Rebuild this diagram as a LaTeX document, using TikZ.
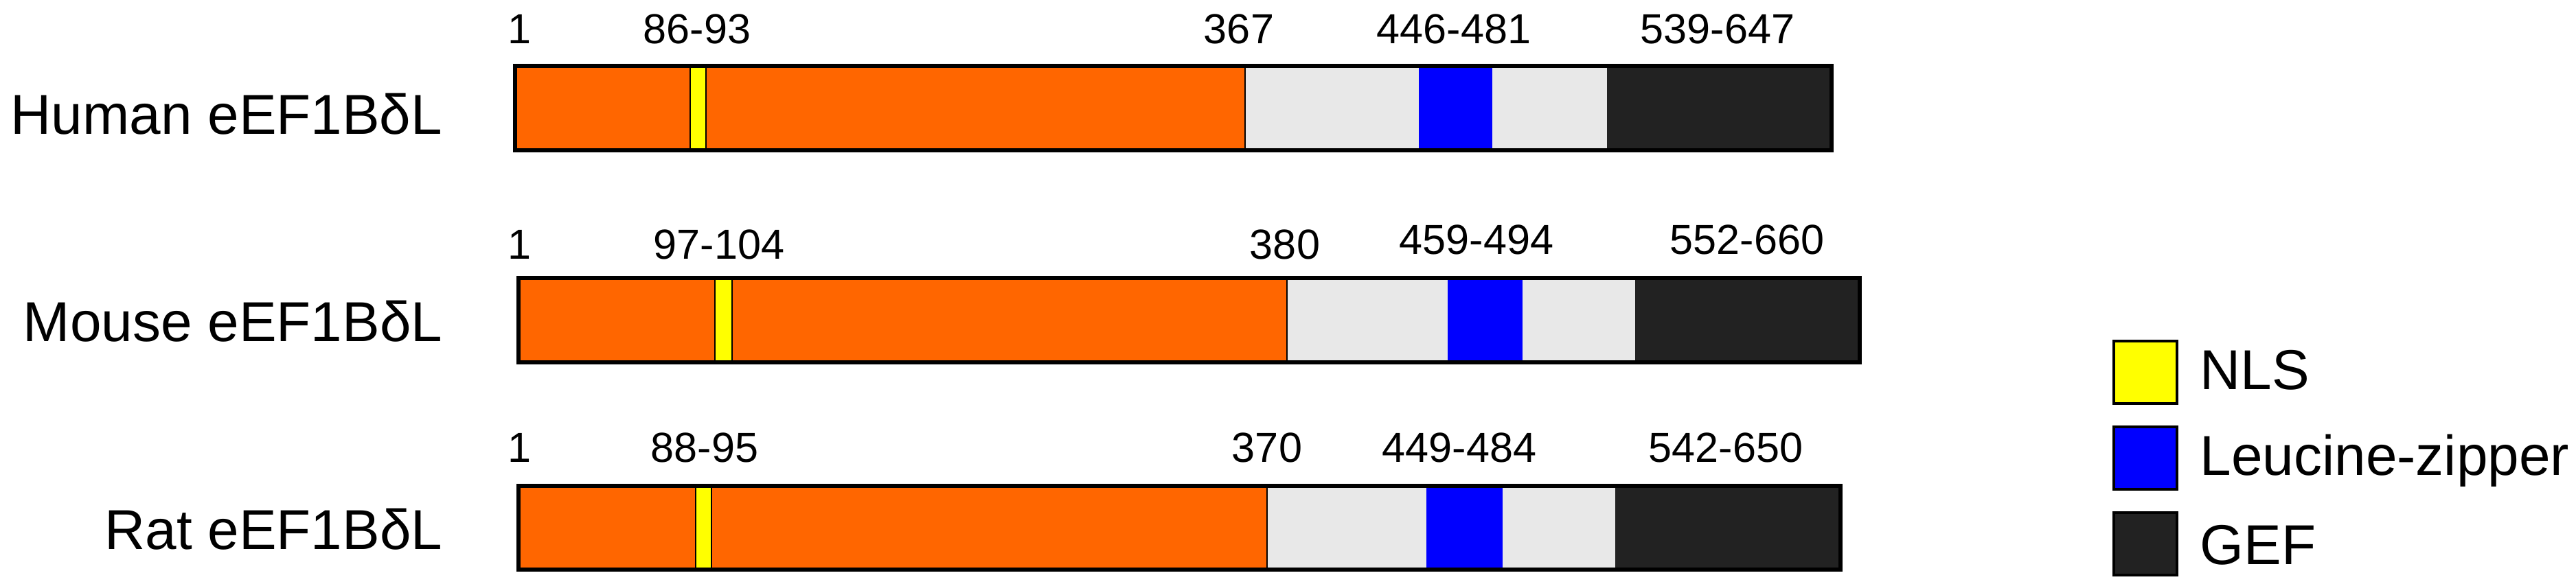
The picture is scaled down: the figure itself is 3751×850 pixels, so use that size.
\documentclass[tikz,border=0pt]{standalone}
\usepackage{fontspec}
\setmainfont{Liberation Sans}
\definecolor{orng}{HTML}{FF6600}
\definecolor{lgry}{HTML}{E8E8E8}
\definecolor{blu}{HTML}{0000FF}
\definecolor{dgry}{HTML}{222222}
\definecolor{yel}{HTML}{FFFF00}
\tikzset{
  outline/.style={draw=black, line width=1.8pt},
  sep/.style={draw=black, line width=0.7pt},
  nlsbox/.style={fill=yel, draw=black, line width=0.6pt},
  numlbl/.style={inner sep=0pt, anchor=base, font=\fontsize{17.4}{20}\selectfont},
  namelbl/.style={inner sep=0pt, anchor=base east, font=\fontsize{23.3}{28}\selectfont},
  leglbl/.style={inner sep=0pt, anchor=base west, font=\fontsize{23.3}{28}\selectfont},
  legbox/.style={draw=black, line width=1.2pt}
}
\begin{document}
\begin{tikzpicture}[x=0.01cm,y=-0.01cm]
\useasboundingbox (0,0) rectangle (3751,850);
% ---------- Human ----------
\fill[orng] (750,96) rectangle (1813,219);
\fill[lgry] (1813,96) rectangle (2066,219);
\fill[blu]  (2066,96) rectangle (2173,219);
\fill[lgry] (2173,96) rectangle (2340,219);
\fill[dgry] (2340,96) rectangle (2667,219);
\draw[sep] (1813,96) -- (1813,219);
\draw[nlsbox] (1005,96) rectangle (1028,219);
\draw[outline] (750,96) rectangle (2667,219);
\node[namelbl] (hname) at (645,195) {Human eEF1BδL};
\node[numlbl] (h1) at (757,63) {1};
\node[numlbl] (hnls) at (1015,63) {86-93};
\node[numlbl] (h367) at (1804,63) {367};
\node[numlbl] (hlz) at (2117,63) {446-481};
\node[numlbl] (hgef) at (2501,63) {539-647};
% ---------- Mouse ----------
\fill[orng] (755,405) rectangle (1874,528);
\fill[lgry] (1874,405) rectangle (2108,528);
\fill[blu]  (2108,405) rectangle (2217,528);
\fill[lgry] (2217,405) rectangle (2381,528);
\fill[dgry] (2381,405) rectangle (2708,528);
\draw[sep] (1874,405) -- (1874,528);
\draw[nlsbox] (1041,405) rectangle (1066,528);
\draw[outline] (755,405) rectangle (2708,528);
\node[namelbl] (mname) at (645,497) {Mouse eEF1BδL};
\node[numlbl] (m1) at (757,377) {1};
\node[numlbl] (mnls) at (1047,377) {97-104};
\node[numlbl] (m380) at (1871,377) {380};
\node[numlbl] (mlz) at (2150,370) {459-494};
\node[numlbl] (mgef) at (2544,370) {552-660};
% ---------- Rat ----------
\fill[orng] (755,708) rectangle (1845,830);
\fill[lgry] (1845,708) rectangle (2077,830);
\fill[blu]  (2077,708) rectangle (2188,830);
\fill[lgry] (2188,708) rectangle (2352,830);
\fill[dgry] (2352,708) rectangle (2680,830);
\draw[sep] (1845,708) -- (1845,830);
\draw[nlsbox] (1013,708) rectangle (1036,830);
\draw[outline] (755,708) rectangle (2680,830);
\node[namelbl] (rname) at (645,800) {Rat eEF1BδL};
\node[numlbl] (r1) at (757,673) {1};
\node[numlbl] (rnls) at (1026,673) {88-95};
\node[numlbl] (r370) at (1845,673) {370};
\node[numlbl] (rlz) at (2125,673) {449-484};
\node[numlbl] (rgef) at (2513,673) {542-650};
% ---------- Legend ----------
\filldraw[legbox, fill=yel]  (3078,497) rectangle (3170,588);
\filldraw[legbox, fill=blu]  (3078,622) rectangle (3170,713);
\filldraw[legbox, fill=dgry] (3078,747) rectangle (3170,838);
\node[leglbl] (lnls) at (3203,567) {NLS};
\node[leglbl] (llz) at (3203,692) {Leucine-zipper};
\node[leglbl] (lgef) at (3203,822) {GEF};
\end{tikzpicture}
\end{document}
